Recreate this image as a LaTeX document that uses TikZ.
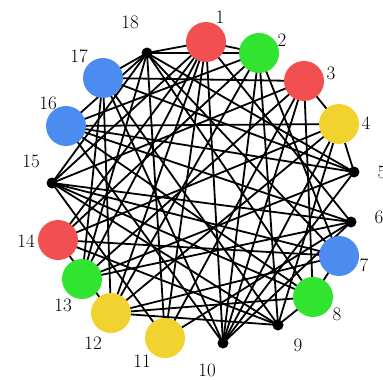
\documentclass[tikz,border=0pt]{standalone}
\usepackage{fontspec}
\usetikzlibrary{backgrounds}
\definecolor{nred}{HTML}{F25050}
\definecolor{ngreen}{HTML}{30E430}
\definecolor{nblue}{HTML}{4C8CF0}
\definecolor{nyellow}{HTML}{F2D22E}
\begin{document}
\begin{tikzpicture}[x=1pt,y=-1pt,
  edge/.style={line width=1.8pt,black},
  cnode/.style={circle,minimum size=40pt,inner sep=0pt,draw=none},
  dotnode/.style={circle,fill=black,minimum size=11pt,inner sep=0pt},
  lab/.style={font=\fontsize{19}{19}\selectfont,inner sep=0pt}]
\useasboundingbox (0,0) rectangle (383,380);
% nodes
\node[cnode,fill=nred]    (n1)  at (206,42)  {};
\node[cnode,fill=ngreen]  (n2)  at (259,53)  {};
\node[cnode,fill=nred]    (n3)  at (304,81)  {};
\node[cnode,fill=nyellow] (n4)  at (339,124) {};
\node[dotnode]            (n5)  at (354,172) {};
\node[dotnode]            (n6)  at (351,222) {};
\node[cnode,fill=nblue]   (n7)  at (339,256) {};
\node[cnode,fill=ngreen]  (n8)  at (313,297) {};
\node[dotnode]            (n9)  at (278,325) {};
\node[dotnode]            (n10) at (223,343) {};
\node[cnode,fill=nyellow] (n11) at (165,338) {};
\node[cnode,fill=nyellow] (n12) at (111,313) {};
\node[cnode,fill=ngreen]  (n13) at (82,279)  {};
\node[cnode,fill=nred]    (n14) at (58,240)  {};
\node[dotnode]            (n15) at (52,183)  {};
\node[cnode,fill=nblue]   (n16) at (66,126)  {};
\node[cnode,fill=nblue]   (n17) at (103,78)  {};
\node[dotnode]            (n18) at (147,53)  {};
% labels
\node[lab] (l1)  at (220,17)  {1};
\node[lab] (l2)  at (282,40)  {2};
\node[lab] (l3)  at (331,73)  {3};
\node[lab] (l4)  at (366,123) {4};
\node[lab] (l5)  at (382,172) {5};
\node[lab] (l6)  at (379,217) {6};
\node[lab] (l7)  at (364,265) {7};
\node[lab] (l8)  at (337,314) {8};
\node[lab] (l9)  at (298,345) {9};
\node[lab] (l10) at (207,370) {10};
\node[lab] (l11) at (142,361) {11};
\node[lab] (l12) at (93,343)  {12};
\node[lab] (l13) at (63,305)  {13};
\node[lab] (l14) at (26,241)  {14};
\node[lab] (l15) at (31,161)  {15};
\node[lab] (l16) at (48,103)  {16};
\node[lab] (l17) at (79,56)   {17};
\node[lab] (l18) at (130,22)  {18};
% edges
\begin{pgfonlayer}{background}
\foreach \a/\b in {1/2,1/6,1/10,1/11,1/12,1/13,1/14,1/15,1/18,
  2/7,2/9,2/10,2/12,2/14,2/16,2/18,
  3/4,3/8,3/10,3/11,3/13,3/15,3/17,
  4/5,4/9,4/10,4/12,4/14,4/16,
  5/10,5/13,5/16,5/17,5/18,
  6/10,6/11,6/13,6/15,6/16,
  7/8,7/12,7/14,7/15,7/18,
  8/9,8/12,8/15,8/16,8/18,
  9/12,9/14,9/15,9/17,
  10/16,10/17,11/15,11/18,12/14,12/17,13/17,13/18,
  15/18,16/18,17/18}
  \draw[edge] (n\a.center) -- (n\b.center);
\end{pgfonlayer}
\end{tikzpicture}
\end{document}
